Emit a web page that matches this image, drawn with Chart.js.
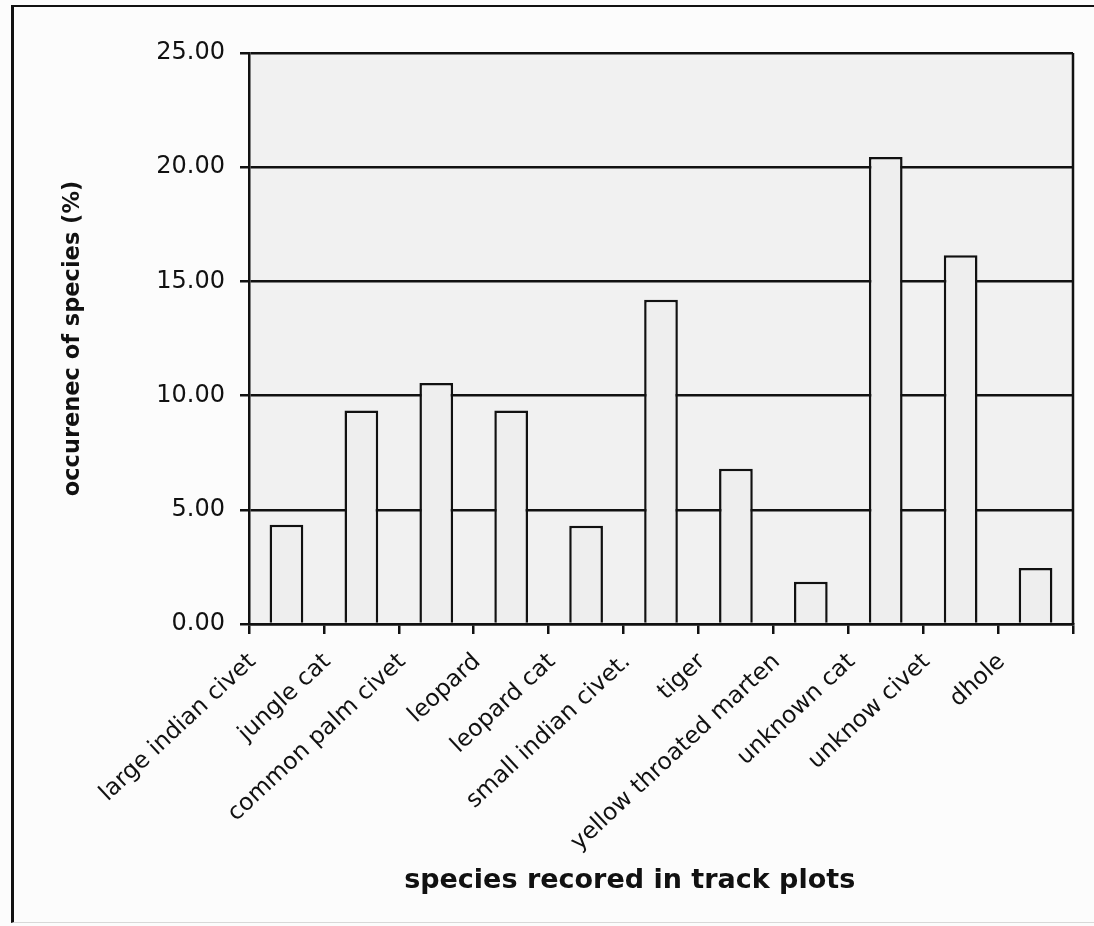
<!DOCTYPE html>
<html>
<head>
<meta charset="utf-8">
<script src="https://cdn.jsdelivr.net/npm/chart.js@4.4.1/dist/chart.umd.min.js"></script>
<style>
  html, body { margin: 0; padding: 0; background: #fcfcfc; overflow: hidden; }
  #wrap { position: relative; width: 1094px; height: 926px; }
  #frame {
    position: absolute; left: 11px; top: 5px; width: 1200px; height: 915px;
    border-top: 2px solid #111; border-left: 3px solid #111; border-bottom: 1px solid #d8d8d8;
    pointer-events: none;
  }
  canvas { position: absolute; left: 0; top: 0; }
</style>
</head>
<body>
<div id="wrap">
  <canvas id="c" width="1094" height="926"></canvas>
  <div id="frame"></div>
</div>
<script>
// Species recorded in track plots and their share of all records (%)
const species = [
  'large indian civet', 'jungle cat', 'common palm civet', 'leopard', 'leopard cat',
  'small indian civet.', 'tiger', 'yellow throated marten', 'unknown cat', 'unknow civet', 'dhole'
];
const occurrence = [4.35, 9.35, 10.55, 9.35, 4.3, 14.2, 6.8, 1.85, 20.45, 16.15, 2.45];
const yTicks = [0, 5, 10, 15, 20, 25];

const yTitle = 'occurenec of species (%)';
const xTitle = 'species recored in track plots';

const FONT = "'DejaVu Sans', sans-serif";
const INK = '#111';

// Grey plot area with a black outline
const plotArea = {
  id: 'plotArea',
  beforeDraw(chart) {
    const { ctx, chartArea: a } = chart;
    ctx.save();
    ctx.fillStyle = '#f1f1f1';
    ctx.fillRect(a.left, a.top, a.right - a.left, a.bottom - a.top);
    ctx.restore();
  },
  afterDatasetsDraw(chart) {
    const { ctx, chartArea: a } = chart;
    ctx.save();
    ctx.strokeStyle = INK;
    ctx.lineWidth = 2.5;
    ctx.beginPath();
    ctx.moveTo(a.right, a.top);
    ctx.lineTo(a.right, a.bottom);
    ctx.stroke();
    ctx.restore();
  },
  afterDraw(chart) {
    // category-axis title, set a little left of the plot centre
    const { ctx, chartArea: a } = chart;
    ctx.save();
    ctx.fillStyle = INK;
    ctx.font = 'bold 27px ' + FONT;
    ctx.textAlign = 'center';
    ctx.textBaseline = 'alphabetic';
    ctx.fillText(xTitle, a.left + (a.right - a.left) * 0.462, 888);
    ctx.restore();
  }
};

new Chart(document.getElementById('c'), {
  type: 'bar',
  data: {
    labels: species,
    datasets: [{
      data: occurrence,
      backgroundColor: '#eeeeee',
      borderColor: INK,
      borderWidth: 2.5,
      borderSkipped: 'start',
      categoryPercentage: 1.0,
      barPercentage: 0.45
    }]
  },
  options: {
    responsive: false,
    animation: false,
    devicePixelRatio: 1,
    layout: { padding: { left: 0, top: 53, right: 21, bottom: 0 } },
    plugins: {
      legend: { display: false },
      tooltip: { enabled: false }
    },
    scales: {
      x: {
        offset: true,
        grid: {
          display: true,
          offset: true,
          drawOnChartArea: false,
          drawTicks: true,
          tickLength: 10,
          color: INK,
          lineWidth: 2.5
        },
        border: { display: true, color: INK, width: 2.5 },
        ticks: {
          autoSkip: false,
          minRotation: 43,
          maxRotation: 43,
          padding: 14,
          labelOffset: -34,
          color: INK,
          font: { family: FONT, size: 23.5 }
        },
        afterFit(scale) { scale.height = 926 - 624; }
      },
      y: {
        min: 0,
        max: 25,
        afterBuildTicks(scale) { scale.ticks = yTicks.map(v => ({ value: v })); },
        grid: {
          color: INK,
          lineWidth: 2.5,
          drawTicks: true,
          tickLength: 9
        },
        border: { display: true, color: INK, width: 2.5 },
        ticks: {
          padding: 15,
          color: INK,
          font: { family: FONT, size: 24 },
          callback: v => Number(v).toFixed(2)
        },
        title: {
          display: true,
          text: yTitle,
          color: INK,
          font: { family: FONT, size: 22.5, weight: 'bold' },
          padding: { top: 60, bottom: 0 }
        },
        afterFit(scale) { scale.width = 249; }
      }
    }
  },
  plugins: [plotArea]
});
</script>
</body>
</html>
